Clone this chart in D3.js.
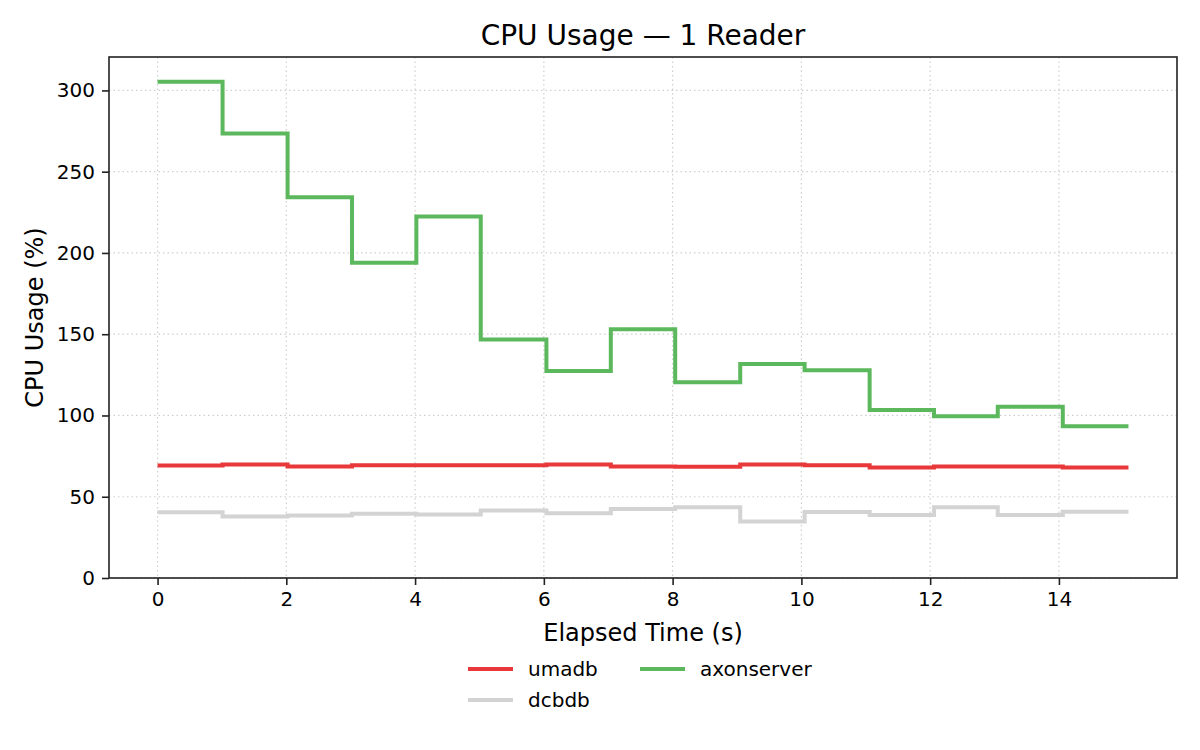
<!DOCTYPE html>
<html>
<head>
<meta charset="utf-8">
<script src="https://cdn.jsdelivr.net/npm/d3@7"></script>
<style>
  body { margin: 0; background: #fff; }
  text { font-family: "DejaVu Sans", sans-serif; fill: #000; }
  .grid line { stroke: #cfcfcf; stroke-width: 1.2; stroke-dasharray: 1.5 3; }
  .axis path, .axis line { stroke: #222; stroke-width: 1.6; }
</style>
</head>
<body>
<div id="plot"></div>
<script>
// elapsed time of each sample (s)
var times = [0, 1.01, 2.02, 3.02, 4.02, 5.02, 6.04, 7.04, 8.04, 9.05, 10.05, 11.06, 12.06, 13.05, 14.06, 15.08]

var umadb = [69.2, 69.9, 68.6, 69.3, 69.3, 69.3, 69.9, 68.6, 68.5, 69.9, 69.3, 68.0, 68.6, 68.6, 68.0, 68.0]
var axonserver = [305.3, 273.5, 234.2, 193.9, 222.5, 146.7, 127.3, 153.1, 120.5, 131.6, 127.9, 103.3, 99.6, 105.3, 93.4, 93.4]
var dcbdb = [40.4, 37.9, 38.5, 39.5, 39.1, 41.6, 39.8, 42.4, 43.6, 34.8, 40.6, 38.7, 43.6, 38.7, 40.8, 40.8]

var seriesNames = ["umadb", "axonserver", "dcbdb"]
var seriesColors = { umadb: "#e8383a", axonserver: "#5cb85c", dcbdb: "#d3d3d3" }
var xTicks = [0, 2, 4, 6, 8, 10, 12, 14]
var yTicks = [0, 50, 100, 150, 200, 250, 300]

var series = { umadb: umadb, axonserver: axonserver, dcbdb: dcbdb }

var margin = { top: 57, right: 23, bottom: 172, left: 109 }
  , width = 1200 - margin.left - margin.right
  , height = 750 - margin.top - margin.bottom

var svg = d3.select("#plot")
  .append("svg")
  .attr("width", 1200)
  .attr("height", 750)

var g = svg.append("g")
  .attr("transform", "translate(" + margin.left + "," + margin.top + ")")

// matplotlib-like 5% padding on x
var ext = d3.extent(times)
var pad = (ext[1] - ext[0]) * 0.05
var xScale = d3.scaleLinear()
  .domain([ext[0] - pad, ext[1] + pad])
  .range([0, width])

var yMax = d3.max(axonserver) * 1.05
var yScale = d3.scaleLinear()
  .domain([0, yMax])
  .range([height, 0])

// grid
g.append("g")
  .attr("class", "grid")
  .selectAll("line.gx")
  .data(xTicks)
  .enter()
  .append("line")
  .attr("x1", d => xScale(d)).attr("x2", d => xScale(d))
  .attr("y1", 0).attr("y2", height)

g.append("g")
  .attr("class", "grid")
  .selectAll("line.gy")
  .data(yTicks)
  .enter()
  .append("line")
  .attr("x1", 0).attr("x2", width)
  .attr("y1", d => yScale(d)).attr("y2", d => yScale(d))

var line = d3.line()
  .x((d, i) => xScale(times[i]))
  .y(d => yScale(d))
  .curve(d3.curveStepAfter)

seriesNames.forEach(function (name) {
  g.append("path")
    .datum(series[name])
    .attr("fill", "none")
    .attr("stroke", seriesColors[name])
    .attr("stroke-width", 4)
    .attr("d", line)
})

// axes
var xAxis = g.append("g")
  .attr("class", "axis")
  .attr("transform", "translate(0," + height + ")")
  .call(d3.axisBottom(xScale).tickValues(xTicks).tickSize(7).tickPadding(7).tickSizeOuter(0))

var yAxis = g.append("g")
  .attr("class", "axis")
  .call(d3.axisLeft(yScale).tickValues(yTicks).tickSize(7).tickPadding(7).tickSizeOuter(0))

svg.selectAll(".axis text")
  .style("font-size", "20px")
  .style("font-family", "DejaVu Sans")
  .attr("fill", "#000")
svg.selectAll(".axis .domain").remove()

// frame
g.append("rect")
  .attr("width", width)
  .attr("height", height)
  .attr("fill", "none")
  .attr("stroke", "#222")
  .attr("stroke-width", 1.6)

// title and labels
svg.append("text")
  .attr("x", margin.left + width / 2)
  .attr("y", 45)
  .attr("text-anchor", "middle")
  .style("font-size", "28px")
  .text("CPU Usage — 1 Reader")

svg.append("text")
  .attr("x", margin.left + width / 2)
  .attr("y", 641)
  .attr("text-anchor", "middle")
  .style("font-size", "24px")
  .text("Elapsed Time (s)")

svg.append("text")
  .attr("transform", "translate(43," + (margin.top + height / 2) + ") rotate(-90)")
  .attr("text-anchor", "middle")
  .style("font-size", "24px")
  .text("CPU Usage (%)")

// legend, two columns, filled row by row
var legendPos = [
  { name: "umadb", x: 468, y: 669 },
  { name: "axonserver", x: 640, y: 669 },
  { name: "dcbdb", x: 468, y: 700 }
]

var legend = svg.append("g")
legend.selectAll("line")
  .data(legendPos)
  .enter()
  .append("line")
  .attr("x1", d => d.x).attr("x2", d => d.x + 45)
  .attr("y1", d => d.y).attr("y2", d => d.y)
  .attr("stroke", d => seriesColors[d.name])
  .attr("stroke-width", 4)

legend.selectAll("text")
  .data(legendPos)
  .enter()
  .append("text")
  .attr("x", d => d.x + 60)
  .attr("y", d => d.y + 7)
  .style("font-size", "20px")
  .text(d => d.name)
</script>
</body>
</html>
